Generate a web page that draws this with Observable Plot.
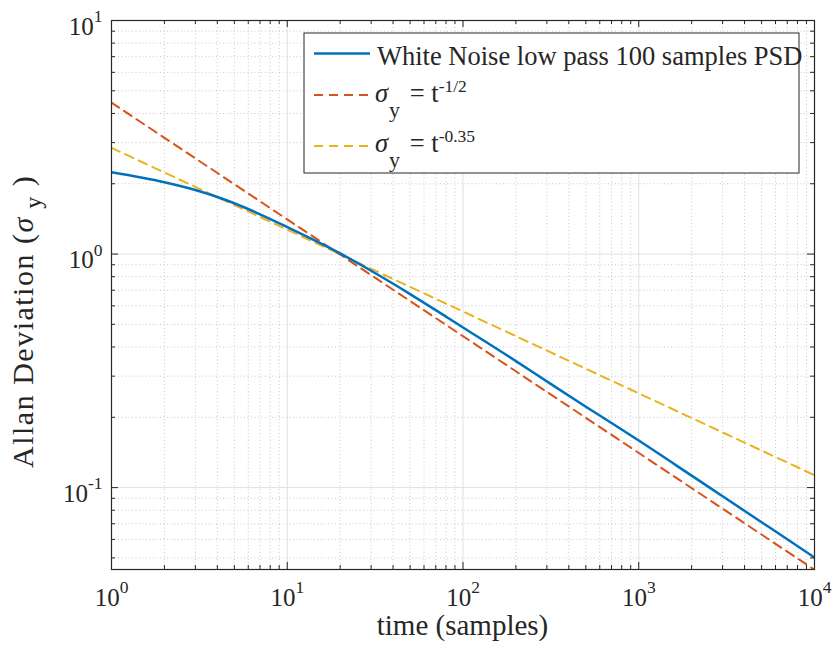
<!DOCTYPE html>
<html>
<head>
<meta charset="utf-8">
<script src="https://cdn.jsdelivr.net/npm/d3@7"></script>
<script src="https://cdn.jsdelivr.net/npm/@observablehq/plot@0.6"></script>
<style>
  body { margin: 0; background: #fff; }
  #chart svg, #chart svg text, #chart svg tspan { font-family: "Liberation Serif", "Times New Roman", serif !important; font-variant: normal !important; }
</style>
</head>
<body>
<div id="chart"></div>
<script>
// ---- data ----
const timeSamples = [1, 2, 3, 4, 5, 7, 10, 15, 20, 30, 50, 70, 100, 200, 300, 500, 700, 1000, 2000, 3000, 5000, 7000, 10000];
const allanDeviation = [2.24, 2.03, 1.88, 1.755, 1.65, 1.48, 1.305, 1.125, 1.006, 0.848, 0.674, 0.575, 0.485, 0.348, 0.285, 0.222, 0.189, 0.159, 0.1125, 0.0918, 0.0711, 0.0601, 0.0502];

const refTime = [1, 10000];
const halfSlopeLine = [4.45, 0.0445];     // sigma_y = t^-1/2
const p35SlopeLine = [2.85, 0.113];       // sigma_y = t^-0.35

const xDomain = [1, 10000];
const yDomain = [0.0446, 10];
const xMajorTicks = [1, 10, 100, 1000, 10000];
const xMinorTicks = [2, 3, 4, 5, 6, 7, 8, 9, 20, 30, 40, 50, 60, 70, 80, 90, 200, 300, 400, 500, 600, 700, 800, 900, 2000, 3000, 4000, 5000, 6000, 7000, 8000, 9000];
const yMajorTicks = [0.1, 1, 10];
const yMinorTicks = [0.05, 0.06, 0.07, 0.08, 0.09, 0.2, 0.3, 0.4, 0.5, 0.6, 0.7, 0.8, 0.9, 2, 3, 4, 5, 6, 7, 8, 9];

const seriesNames = ["White Noise low pass 100 samples PSD", "-1/2", "-0.35"];
const xLabel = "time (samples)";
const yLabel = "Allan Deviation (";

// ---- style ----
const FONT = '"Liberation Serif", "Times New Roman", serif';
const BLUE = "#0072BD", RED = "#D95319", YELLOW = "#EDB120", AXIS = "#262626";
const W = 833, H = 653, ML = 111, MR = 19, MT = 20, MB = 84;
const plotH = H - MT - MB, plotW = W - ML - MR;

const blueData = timeSamples.map((t, i) => ({t, v: allanDeviation[i]}));
const redData = refTime.map((t, i) => ({t, v: halfSlopeLine[i]}));
const yellowData = refTime.map((t, i) => ({t, v: p35SlopeLine[i]}));

const expFmt = d => "10^" + Math.round(Math.log10(d));
const minorGrid = {stroke: "#c8c8c8", strokeOpacity: 1, strokeDasharray: "1,2.5", strokeWidth: 1};
const majorGrid = {stroke: "#dfdfdf", strokeOpacity: 1, strokeWidth: 1};

const chart = Plot.plot({
  width: W, height: H,
  marginLeft: ML, marginRight: MR, marginTop: MT, marginBottom: MB,
  style: {fontFamily: FONT, fontSize: "25px", color: AXIS, background: "white", overflow: "visible"},
  x: {type: "log", domain: xDomain},
  y: {type: "log", domain: yDomain},
  marks: [
    Plot.gridX(xMinorTicks, minorGrid),
    Plot.gridY(yMinorTicks, minorGrid),
    Plot.gridX(xMajorTicks, majorGrid),
    Plot.gridY(yMajorTicks, majorGrid),
    Plot.line(yellowData, {x: "t", y: "v", stroke: YELLOW, strokeWidth: 2, strokeDasharray: "9,6", clip: true}),
    Plot.line(redData, {x: "t", y: "v", stroke: RED, strokeWidth: 2, strokeDasharray: "9,6", clip: true}),
    Plot.line(blueData, {x: "t", y: "v", stroke: BLUE, strokeWidth: 2.5, curve: "monotone-x", clip: true}),
    // inward ticks on all four sides
    Plot.tickX(xMajorTicks, {x: d => d, insetTop: plotH - 7, stroke: AXIS}),
    Plot.tickX(xMajorTicks, {x: d => d, insetBottom: plotH - 7, stroke: AXIS}),
    Plot.tickX(xMinorTicks, {x: d => d, insetTop: plotH - 4, stroke: AXIS}),
    Plot.tickX(xMinorTicks, {x: d => d, insetBottom: plotH - 4, stroke: AXIS}),
    Plot.tickY(yMajorTicks, {y: d => d, insetRight: plotW - 7, stroke: AXIS}),
    Plot.tickY(yMajorTicks, {y: d => d, insetLeft: plotW - 7, stroke: AXIS}),
    Plot.tickY(yMinorTicks, {y: d => d, insetRight: plotW - 4, stroke: AXIS}),
    Plot.tickY(yMinorTicks, {y: d => d, insetLeft: plotW - 4, stroke: AXIS}),
    Plot.frame({stroke: AXIS, strokeWidth: 1.2}),
    Plot.axisX(xMajorTicks, {anchor: "bottom", tickSize: 0, tickPadding: 0, tickFormat: expFmt, label: null, fontSize: 25, fontFamily: FONT, fontVariant: "normal"}),
    Plot.axisY(yMajorTicks, {anchor: "left", tickSize: 0, tickPadding: 9, tickFormat: expFmt, label: null, fontSize: 25, fontFamily: FONT, fontVariant: "normal"})
  ]
});

document.getElementById("chart").appendChild(chart);

const NS = "http://www.w3.org/2000/svg";
// superscript exponents for tick labels
chart.querySelectorAll("text").forEach(t => {
  const m = t.textContent.match(/^10\^(-?\d+)$/);
  if (!m) return;
  const g = t.closest("g[aria-label]");
  const isX = g && /x-axis/.test(g.getAttribute("aria-label"));
  if (g) { g.setAttribute("font-family", FONT); g.removeAttribute("font-variant"); }
  t.removeAttribute("dy");
  t.setAttribute("y", isX ? 36 : 14);
  t.setAttribute("font-family", FONT);
  t.setAttribute("fill", AXIS);
  t.textContent = "";
  const base = document.createElementNS(NS, "tspan");
  base.textContent = "10";
  base.setAttribute("font-family", FONT);
  const sup = document.createElementNS(NS, "tspan");
  sup.textContent = m[1];
  sup.setAttribute("dy", "-12.5");
  sup.setAttribute("font-size", "17.5");
  sup.setAttribute("font-family", FONT);
  t.appendChild(base); t.appendChild(sup);
});

const svg = d3.select(chart);
// axis labels
svg.append("text")
  .attr("x", (ML + W - MR) / 2).attr("y", 635)
  .attr("text-anchor", "middle").attr("font-size", 29).attr("fill", AXIS)
  .attr("font-family", FONT)
  .text(xLabel);

const yl = svg.append("text")
  .attr("transform", `translate(33,468) rotate(-90)`)
  .attr("text-anchor", "start").attr("font-size", 30).attr("fill", AXIS)
  .attr("font-family", FONT).attr("letter-spacing", 1.5);
yl.append("tspan").text(yLabel);
yl.append("tspan").attr("font-style", "italic").text("σ");
yl.append("tspan").attr("dy", 8).attr("font-size", 24).text(" y");
yl.append("tspan").attr("dy", -8).text(" )");

// legend
const lg = svg.append("g").attr("font-family", FONT).attr("text-anchor", "start");
lg.append("rect").attr("x", 304).attr("y", 33).attr("width", 495).attr("height", 140)
  .attr("fill", "white").attr("stroke", AXIS).attr("stroke-width", 1);
const rows = [
  {y: 53.5, color: BLUE, dash: null, w: 2.5},
  {y: 95, color: RED, dash: "9,6", w: 2},
  {y: 146, color: YELLOW, dash: "9,6", w: 2}
];
rows.forEach(r => {
  lg.append("line").attr("x1", 314).attr("x2", 370).attr("y1", r.y).attr("y2", r.y)
    .attr("stroke", r.color).attr("stroke-width", r.w).attr("stroke-dasharray", r.dash);
});
lg.append("text").attr("x", 377).attr("y", 65).attr("text-anchor", "start")
  .attr("font-size", 26.5).attr("fill", AXIS).text(seriesNames[0]);
[[101.7, seriesNames[1]], [151.7, seriesNames[2]]].forEach(([by, ex]) => {
  const tx = lg.append("text").attr("x", 375).attr("y", by).attr("text-anchor", "start")
    .attr("font-size", 26.5).attr("fill", AXIS);
  tx.append("tspan").attr("font-style", "italic").text("σ");
  tx.append("tspan").attr("dy", 15).attr("dx", 1).attr("font-size", 22).text("y");
  tx.append("tspan").attr("dy", -15).attr("dx", 3).text(" = t");
  tx.append("tspan").attr("dy", -10).attr("font-size", 17.5).text(ex);
});
</script>
</body>
</html>
